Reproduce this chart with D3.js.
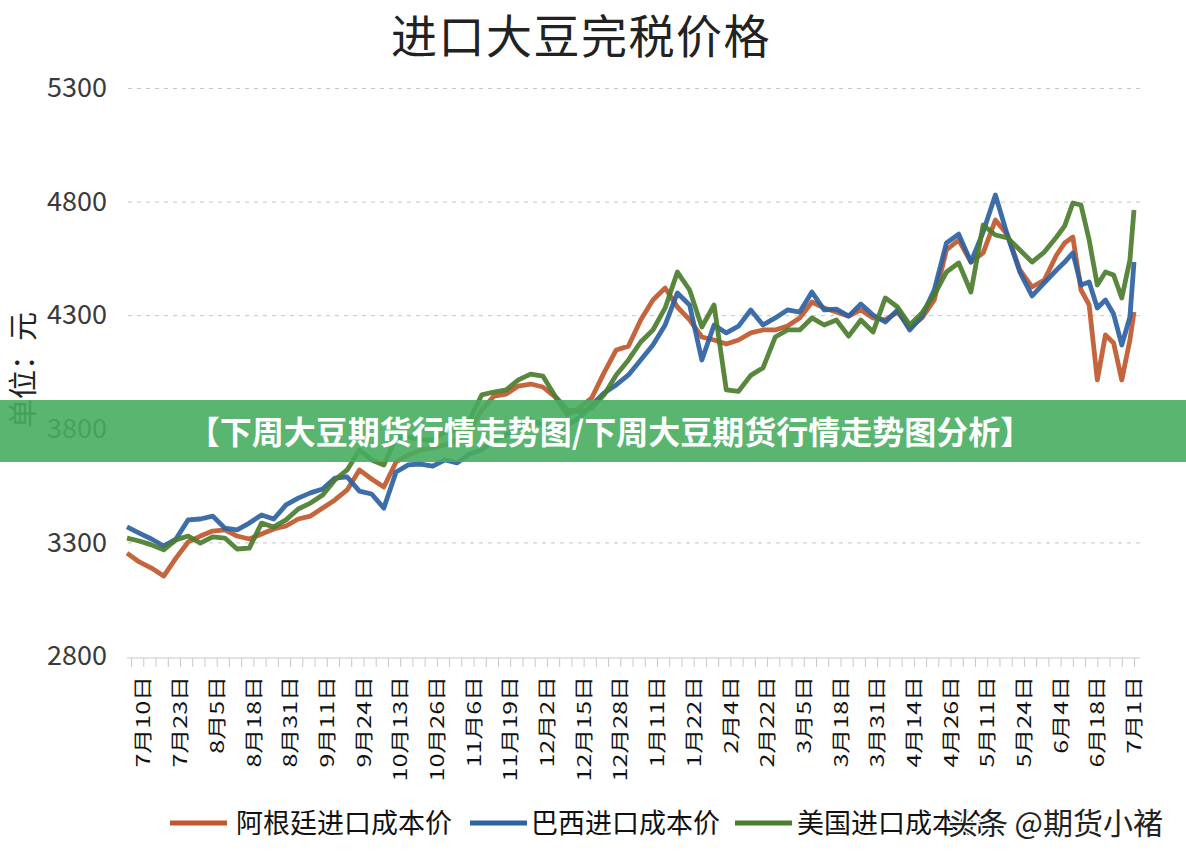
<!DOCTYPE html>
<html>
<head>
<meta charset="utf-8">
<script src="https://cdn.jsdelivr.net/npm/d3@7"></script>
<style>
  body { margin: 0; background: #fff; }
  text { font-family: "Noto Sans CJK SC", "Noto Sans", sans-serif; }
</style>
</head>
<body>
<div id="chart"></div>
<script>
var svgWidth = 1186;
var svgHeight = 862;

// trading-day index of each sample
var dayIdx = [0, 3, 6, 9, 12, 15, 18, 21, 24, 27, 30, 33, 36, 39, 42, 45, 48, 51, 54, 57,
  60, 63, 66, 69, 72, 75, 78, 81, 84, 87, 90, 93, 96, 99, 102, 105, 108, 111, 114, 117,
  120, 123, 126, 129, 132, 135, 138, 141, 144, 147, 150, 153, 156, 159, 162, 165, 168, 171, 174, 177,
  180, 183, 186, 189, 192, 195, 198, 201, 204, 207, 210, 213, 216, 219, 222, 225,
  228, 230, 232, 234, 236, 238, 240, 242, 244, 246, 247];

var argentina = [3253, 3214, 3187, 3152, 3231, 3302, 3328, 3350, 3355, 3328,
  3315, 3337, 3359, 3372, 3403, 3416, 3451, 3487, 3531, 3619,
  3579, 3544, 3654, 3685, 3707, 3716, 3729, 3751, 3795, 3883,
  3944, 3953, 3988, 3997, 3984, 3940, 3861, 3892, 3936, 4046,
  4147, 4164, 4279, 4367, 4420, 4336, 4279, 4204, 4191, 4173,
  4191, 4222, 4235, 4235, 4252, 4288, 4358, 4332, 4314, 4296,
  4323, 4288, 4279, 4314, 4244, 4288, 4367, 4587, 4631, 4534,
  4574, 4719, 4653, 4499, 4424, 4455,
  4565, 4618, 4644, 4411, 4345, 4015, 4213, 4178, 4015, 4191, 4314];

var brazil = [3368, 3341, 3315, 3284, 3315, 3399, 3403, 3416, 3363, 3355,
  3385, 3421, 3403, 3465, 3495, 3518, 3535, 3583, 3588, 3526,
  3513, 3451, 3610, 3641, 3645, 3636, 3663, 3650, 3689, 3707,
  3751, 3773, 3804, 3839, 3817, 3786, 3817, 3848, 3905, 3958,
  3993, 4037, 4103, 4169, 4257, 4398, 4345, 4103, 4257, 4222,
  4252, 4323, 4257, 4288, 4323, 4314, 4402, 4323, 4327, 4296,
  4349, 4301, 4270, 4323, 4235, 4296, 4411, 4618, 4657, 4534,
  4666, 4829, 4649, 4490, 4385, 4442,
  4499, 4534, 4574, 4433, 4446, 4332, 4367, 4305, 4169, 4292, 4534];

var usa = [3319, 3306, 3289, 3267, 3311, 3328, 3297, 3324, 3319, 3271,
  3275, 3385, 3368, 3399, 3447, 3473, 3509, 3575, 3619, 3707,
  3663, 3641, 3760, 3764, 3751, 3751, 3786, 3795, 3839, 3949,
  3962, 3971, 4015, 4041, 4032, 3944, 3883, 3874, 3892, 3949,
  4037, 4103, 4182, 4235, 4332, 4490, 4411, 4248, 4345, 3971,
  3965, 4035, 4068, 4204, 4235, 4235, 4288, 4257, 4279, 4208,
  4279, 4226, 4376, 4336, 4257, 4310, 4389, 4490, 4530, 4402,
  4697, 4653, 4640, 4587, 4534, 4578,
  4644, 4693, 4794, 4785, 4631, 4433, 4490, 4477, 4376, 4543, 4763];

var dateLabels = ["7月10日", "7月23日", "8月5日", "8月18日", "8月31日", "9月11日", "9月24日",
  "10月13日", "10月26日", "11月6日", "11月19日", "12月2日", "12月15日", "12月28日",
  "1月11日", "1月22日", "2月4日", "2月22日", "3月5日", "3月18日", "3月31日",
  "4月14日", "4月26日", "5月11日", "5月24日", "6月4日", "6月18日", "7月1日"];

var yTicks = [2800, 3300, 3800, 4300, 4800, 5300];

var seriesNames = ["阿根廷进口成本价", "巴西进口成本价", "美国进口成本价"];
var seriesColors = ["#c0582c", "#2d62a3", "#4a7d2c"];

var svg = d3.select("#chart")
  .append("svg")
  .attr("width", svgWidth)
  .attr("height", svgHeight);

svg.append("rect")
  .attr("width", svgWidth)
  .attr("height", svgHeight)
  .attr("fill", "#fff");

var xScale = d3.scaleLinear().domain([0, 247]).range([127, 1134]);
var yScale = d3.scaleLinear().domain([2800, 5300]).range([656, 88]);

// title
svg.append("text")
  .attr("x", 581)
  .attr("y", 53)
  .attr("text-anchor", "middle")
  .attr("font-size", 46)
  .attr("letter-spacing", 1.5)
  .attr("fill", "#222")
  .text("进口大豆完税价格");

// y axis with dashed grid
var yAxis = svg.append("g")
  .attr("transform", "translate(128, 0)")
  .call(d3.axisLeft(yScale)
    .tickValues(yTicks)
    .tickSize(-1012)
    .tickPadding(21)
    .tickFormat(d3.format("d")));

yAxis.select(".domain").remove();
yAxis.selectAll("line")
  .attr("stroke", "#c4c4c4")
  .attr("stroke-dasharray", "4,5")
  .attr("stroke-opacity", d => d === 2800 ? 0 : 1);
yAxis.selectAll("text")
  .attr("font-family", "'Noto Sans', sans-serif")
  .attr("font-size", 27)
  .attr("fill", "#3a3a3a");

svg.append("text")
  .attr("transform", "translate(24, 370) rotate(-90)")
  .attr("text-anchor", "middle")
  .attr("dy", "0.35em")
  .attr("font-size", 29)
  .attr("fill", "#222")
  .text("单位：元");

// x axis: minor ticks then rotated date labels
var xTickAxis = svg.append("g")
  .attr("transform", "translate(0, 658)")
  .call(d3.axisBottom(xScale).tickValues(d3.range(1, 248, 3)).tickSize(9).tickFormat(""));

xTickAxis.select(".domain")
  .attr("d", "M127,0H1140");
xTickAxis.selectAll("path, line").attr("stroke", "#c8c8c8");

var xLabelAxis = svg.append("g")
  .attr("transform", "translate(0, 658)")
  .call(d3.axisBottom(xScale)
    .tickValues(dateLabels.map((d, i) => 4 + 9 * i))
    .tickSize(0)
    .tickFormat((d, i) => dateLabels[i]));

xLabelAxis.select(".domain").remove();
xLabelAxis.selectAll("text")
  .attr("x", 0)
  .attr("y", 0)
  .attr("dy", "0.35em")
  .attr("text-anchor", "end")
  .attr("transform", "translate(0, 18) scale(0.76, 1) rotate(-90)")
  .attr("font-family", "'Noto Sans CJK SC', sans-serif")
  .attr("font-size", 25)
  .attr("fill", "#111");

// lines
var lineGen = d3.line()
  .x((d, i) => xScale(dayIdx[i]))
  .y(d => yScale(d));

[argentina, brazil, usa].forEach(function(series, s) {
  svg.append("path")
    .datum(series)
    .attr("d", lineGen)
    .attr("fill", "none")
    .attr("stroke", seriesColors[s])
    .attr("stroke-width", 4.8)
    .attr("stroke-linejoin", "round")
    .attr("stroke-opacity", 0.92);
});

// legend
var legendX = [[170, 236], [470, 531], [735, 797]];
seriesNames.forEach(function(name, s) {
  svg.append("line")
    .attr("x1", legendX[s][0])
    .attr("x2", legendX[s][0] + 57)
    .attr("y1", 823)
    .attr("y2", 823)
    .attr("stroke", seriesColors[s])
    .attr("stroke-width", 5);
  svg.append("text")
    .attr("x", legendX[s][1])
    .attr("y", 823)
    .attr("dy", "0.36em")
    .attr("font-size", 27)
    .attr("fill", "#111")
    .text(name);
});

// watermark
svg.append("text")
  .attr("x", 1163)
  .attr("y", 823)
  .attr("dy", "0.36em")
  .attr("text-anchor", "end")
  .attr("font-size", 30)
  .attr("fill", "#222")
  .attr("stroke", "#fff")
  .attr("stroke-width", 3)
  .attr("paint-order", "stroke")
  .text("头条 @期货小褚");

// green banner across the chart
svg.append("rect")
  .attr("x", 0)
  .attr("y", 400)
  .attr("width", svgWidth)
  .attr("height", 62)
  .attr("fill", "#47ad60")
  .attr("fill-opacity", 0.9);

svg.append("text")
  .attr("x", 610)
  .attr("y", 432)
  .attr("dy", "0.36em")
  .attr("text-anchor", "middle")
  .attr("font-size", 32)
  .attr("font-weight", "bold")
  .attr("fill", "#fff")
  .text("【下周大豆期货行情走势图/下周大豆期货行情走势图分析】");
</script>
</body>
</html>
